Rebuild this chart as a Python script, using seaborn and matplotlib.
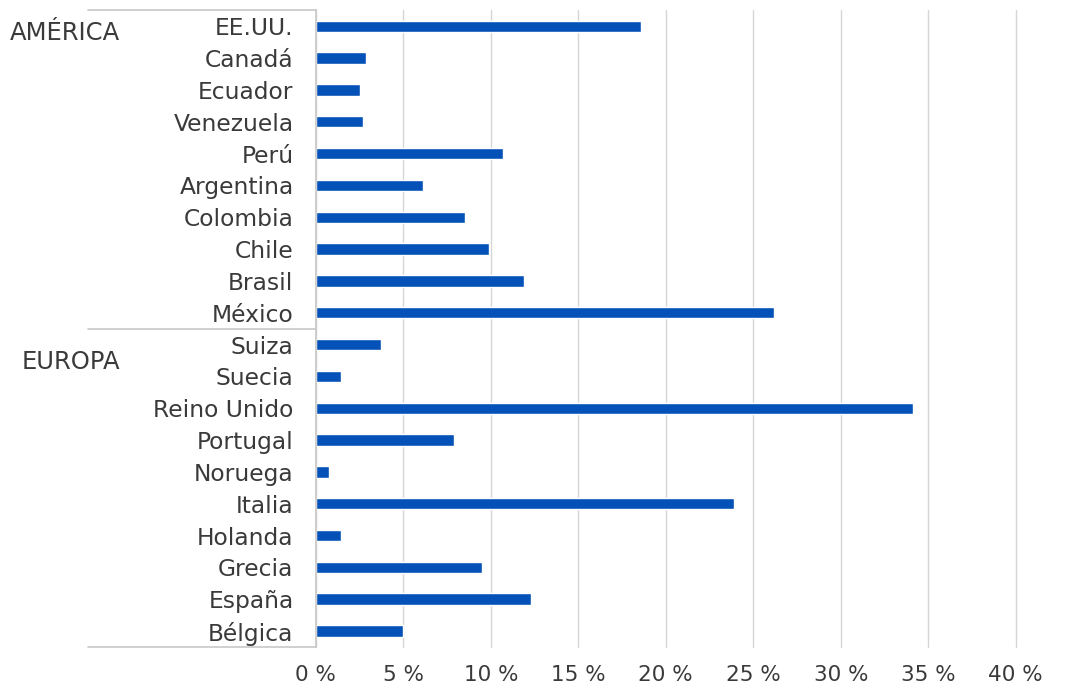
import seaborn as sns
import matplotlib.pyplot as plt
import matplotlib.transforms as mtransforms
import pandas as pd

# data (percent)
america = ["EE.UU.", "Canadá", "Ecuador", "Venezuela", "Perú", "Argentina",
           "Colombia", "Chile", "Brasil", "México"]
america_vals = [18.6, 2.85, 2.5, 2.7, 10.7, 6.1, 8.5, 9.9, 11.9, 26.2]
europa = ["Suiza", "Suecia", "Reino Unido", "Portugal", "Noruega", "Italia",
          "Holanda", "Grecia", "España", "Bélgica"]
europa_vals = [3.7, 1.45, 34.1, 7.9, 0.75, 23.9, 1.45, 9.5, 12.3, 5.0]
groups = ["AMÉRICA", "EUROPA"]
x_ticks = [0, 5, 10, 15, 20, 25, 30, 35, 40]

df = pd.DataFrame({
    "pais": america + europa,
    "valor": america_vals + europa_vals,
})

sns.set_style("white")
plt.rcParams["font.family"] = ["DejaVu Sans"]
text_color = "#3a3a3a"
line_color = "#c8c8c8"

fig = plt.figure(figsize=(10.67, 6.89), dpi=100)
ax = fig.add_axes([0.296, 0.061, 0.656, 0.924])

sns.barplot(data=df, x="valor", y="pais", orient="h", color="#0451b8",
            width=0.36, saturation=1, ax=ax)

ax.set_xlim(0, 40)
ax.set_ylim(len(df) - 0.5, -0.5)
ax.set_xticks(x_ticks)
ax.set_xticklabels([f"{t} %" for t in x_ticks])
ax.set_xlabel("")
ax.set_ylabel("")
ax.xaxis.grid(True, color="#d6d6d6", linewidth=1.0)
for gl in ax.xaxis.get_gridlines():
    gl.set_clip_on(False)
ax.set_axisbelow(True)
ax.tick_params(axis="x", length=0, pad=13, labelsize=15.5, labelcolor=text_color)
ax.tick_params(axis="y", length=0, pad=16, labelsize=16.8, labelcolor=text_color)

for side in ["top", "right", "bottom"]:
    ax.spines[side].set_visible(False)
ax.spines["left"].set_color(line_color)
ax.spines["left"].set_linewidth(1.2)

# group separators and labels on the left
trans = mtransforms.blended_transform_factory(ax.transAxes, ax.transData)
n_am = len(america)
for yb in [-0.5, n_am - 0.5, len(df) - 0.5]:
    ax.plot([-0.326, 0], [yb, yb], transform=trans, color=line_color,
            linewidth=1.2, clip_on=False)
ax.text(-0.279, 0.22, groups[0], transform=trans, ha="right", va="center",
        fontsize=17.5, color=text_color)
ax.text(-0.279, n_am + 0.55, groups[1], transform=trans, ha="right", va="center",
        fontsize=17.5, color=text_color)

fig.savefig("out.png", dpi=100)
